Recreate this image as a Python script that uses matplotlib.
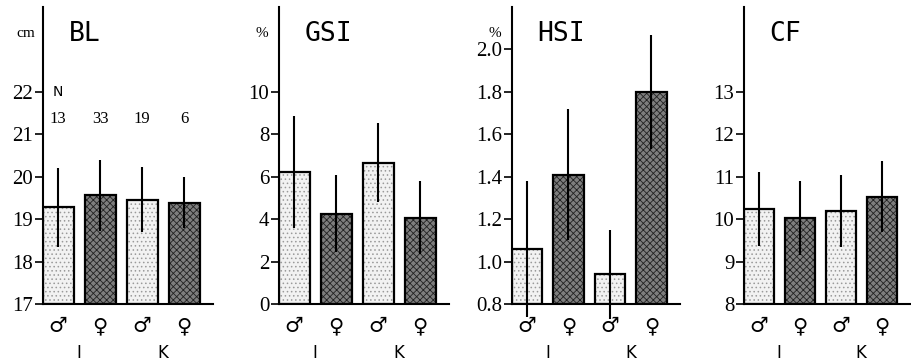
import matplotlib
matplotlib.use('Agg')
import matplotlib.pyplot as plt
import numpy as np

plt.rcParams['hatch.linewidth'] = 0.6

# data (mean, sd)
sex_labels = ['\u2642', '\u2640', '\u2642', '\u2640']
group_labels = ['I', 'K']
n_fish = [13, 33, 19, 6]

bl_mean = [19.28, 19.56, 19.46, 19.39]
bl_sd = [0.93, 0.83, 0.76, 0.61]
gsi_mean = [6.24, 4.25, 6.67, 4.06]
gsi_sd = [2.64, 1.82, 1.85, 1.72]
hsi_mean = [1.06, 1.41, 0.94, 1.80]
hsi_sd = [0.32, 0.31, 0.21, 0.27]
cf_mean = [10.24, 10.02, 10.20, 10.53]
cf_sd = [0.87, 0.87, 0.85, 0.84]

panels = [
    ('BL', 'cm', bl_mean, bl_sd, (17, 24), [17, 18, 19, 20, 21, 22], '%d'),
    ('GSI', '%', gsi_mean, gsi_sd, (0, 14), [0, 2, 4, 6, 8, 10], '%d'),
    ('HSI', '%', hsi_mean, hsi_sd, (0.8, 2.2), [0.8, 1.0, 1.2, 1.4, 1.6, 1.8, 2.0], '%.1f'),
    ('CF', '', cf_mean, cf_sd, (8, 15), [8, 9, 10, 11, 12, 13], '%d'),
]
lefts = [43, 279, 512, 744]
widths = [170, 170, 168, 166]

W, H = 911, 363
fig = plt.figure(figsize=(W / 100, H / 100), dpi=100)
fig.patch.set_facecolor('white')

serif = ['Liberation Serif', 'DejaVu Serif']
x = np.arange(4)
faces = ['#f2f2f2', '#7e7e7e', '#f2f2f2', '#7e7e7e']
hatches = ['....', 'xxxxx', '....', 'xxxxx']
hatch_cols = ['#9a9a9a', '#222222', '#9a9a9a', '#222222']

for i, (name, unit, mean, sd, ylim, ticks, fmt) in enumerate(panels):
    ax = fig.add_axes([lefts[i] / W, 1 - 304 / H, widths[i] / W, 297 / H])
    for j in range(4):
        ax.bar(x[j], mean[j] - ylim[0], bottom=ylim[0], width=0.74,
               facecolor=faces[j], hatch=hatches[j], edgecolor=hatch_cols[j],
               linewidth=0, zorder=2)
        ax.bar(x[j], mean[j] - ylim[0], bottom=ylim[0], width=0.74,
               facecolor='none', edgecolor='black', linewidth=1.6, zorder=3)
    ax.errorbar(x, mean, yerr=sd, fmt='none', ecolor='black', elinewidth=1.5,
                capsize=0, zorder=4, clip_on=False)
    ax.set_xlim(-0.36, 3.69)
    ax.set_ylim(*ylim)
    ax.spines['top'].set_visible(False)
    ax.spines['right'].set_visible(False)
    ax.spines['left'].set_linewidth(1.5)
    ax.spines['bottom'].set_linewidth(1.5)
    ax.set_yticks(ticks)
    ax.set_yticklabels([fmt % t for t in ticks], family=serif, fontsize=15)
    ax.tick_params(axis='y', direction='out', length=6, width=1.2, pad=1)
    ax.set_xticks(x)
    ax.set_xticklabels(sex_labels, fontsize=15, family='DejaVu Sans')
    ax.tick_params(axis='x', length=0, pad=9)
    for g, lab in enumerate(group_labels):
        ax.text(2 * g + 0.5, -0.165, lab, transform=ax.get_xaxis_transform(),
                ha='center', va='center', fontsize=12, family='DejaVu Sans')
    ax.text(0.15, 0.91, name, transform=ax.transAxes, ha='left', va='center',
            fontsize=19, family='DejaVu Sans Mono')
    if unit:
        ax.text(-0.1, 0.91, unit, transform=ax.transAxes, ha='center', va='center',
                fontsize=11, family=serif)
    if name == 'BL':
        ax.text(0, 22, 'N', ha='center', va='center', fontsize=10, family='DejaVu Sans')
        for j in range(4):
            ax.text(x[j], 21.35, str(n_fish[j]), ha='center', va='center',
                    fontsize=12, family=serif)

fig.savefig('out.png', dpi=100, facecolor='white')
